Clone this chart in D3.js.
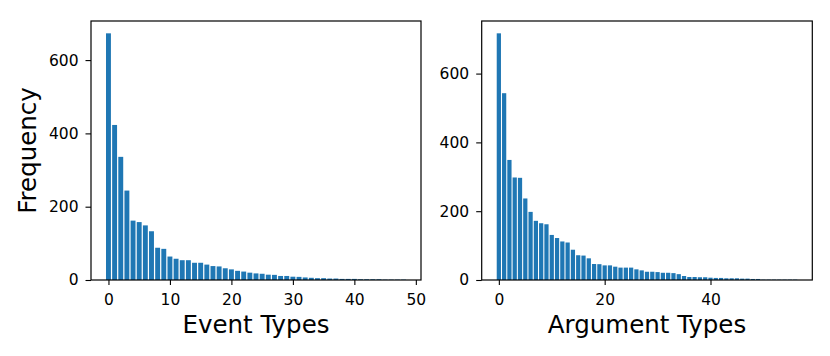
<!DOCTYPE html>
<html>
<head>
<meta charset="utf-8">
<script src="https://cdn.jsdelivr.net/npm/d3@7"></script>
<style>
  html, body { margin: 0; padding: 0; background: #fff; }
  svg text { font-family: "DejaVu Sans", sans-serif; fill: #000; }
</style>
</head>
<body>
<svg id="chart" width="830" height="356"></svg>
<script>
// Data
const eventFreq = [673, 423, 336, 244, 162, 158, 149, 133, 88, 85,
  64, 58, 54, 54, 47, 47, 42, 38, 37, 32,
  29, 25, 23, 20, 18, 17, 14.5, 14, 11, 11,
  9, 8.5, 7, 6, 5, 5, 4, 4, 3, 3,
  3, 2, 2, 2, 2, 1, 1, 1, 1];
const argumentFreq = [717, 543, 349, 298, 297, 237, 198, 172, 165, 162,
  131, 122, 112, 109, 88, 72, 71, 63, 46.5, 46,
  42.5, 42.5, 38.7, 36, 36, 36, 31, 28, 24, 24,
  23, 21, 21, 20, 17, 11.6, 8.7, 8.7, 8, 8,
  6.7, 6, 6, 5, 5, 5, 4, 4, 3, 3,
  1, 1, 1, 1, 1, 1, 1];
const eventXTicks = [0, 10, 20, 30, 40, 50];
const argumentXTicks = [0, 20, 40];
const yTicks = [0, 200, 400, 600];
const xLabels = ["Event Types", "Argument Types"];
const yLabel = "Frequency";

const svg = d3.select("#chart");
const plotTop = 21, plotBottom = 280;

function panel(values, xTicks, label, left, right, showYLabel) {
  const n = values.length;
  const lo = -0.4, hi = n - 1 + 0.4, m = (hi - lo) * 0.05;
  const x = d3.scaleLinear().domain([lo - m, hi + m]).range([left, right]);
  const y = d3.scaleLinear().domain([0, d3.max(values) * 1.05]).range([plotBottom, plotTop]);
  const g = svg.append("g");

  g.selectAll("rect.bar").data(values).enter().append("rect")
    .attr("class", "bar")
    .attr("x", (d, i) => x(i - 0.4))
    .attr("width", (d, i) => x(i + 0.4) - x(i - 0.4))
    .attr("y", d => y(d))
    .attr("height", d => y(0) - y(d))
    .attr("fill", "#1f77b4");

  const xa = d3.axisBottom(x).tickValues(xTicks).tickSize(5).tickPadding(8.5).tickSizeOuter(0);
  const xg = g.append("g").attr("transform", `translate(0,${plotBottom})`).call(xa);
  xg.select(".domain").remove();
  xg.selectAll("line").attr("stroke", "#000").attr("stroke-width", 1.1);
  xg.selectAll("text").attr("font-size", 15.5).attr("fill", "#000");

  const ya = d3.axisLeft(y).tickValues(yTicks).tickSize(5.5).tickPadding(7).tickSizeOuter(0);
  const yg = g.append("g").attr("transform", `translate(${left},0)`).call(ya);
  yg.select(".domain").remove();
  yg.selectAll("line").attr("stroke", "#000").attr("stroke-width", 1.1);
  yg.selectAll("text").attr("font-size", 15.5).attr("fill", "#000");

  g.append("rect")
    .attr("x", left).attr("y", plotTop)
    .attr("width", right - left).attr("height", plotBottom - plotTop)
    .attr("fill", "none").attr("stroke", "#000").attr("stroke-width", 1.2);

  g.append("text")
    .attr("x", (left + right) / 2).attr("y", 333)
    .attr("text-anchor", "middle")
    .attr("font-size", 24.5)
    .text(label);

  if (showYLabel) {
    g.append("text")
      .attr("transform", `translate(36,${(plotTop + plotBottom) / 2}) rotate(-90)`)
      .attr("text-anchor", "middle")
      .attr("font-size", 24.5)
      .text(yLabel);
  }
}

panel(eventFreq, eventXTicks, xLabels[0], 91, 421, true);
panel(argumentFreq, argumentXTicks, xLabels[1], 481.7, 812.3, false);
</script>
</body>
</html>
